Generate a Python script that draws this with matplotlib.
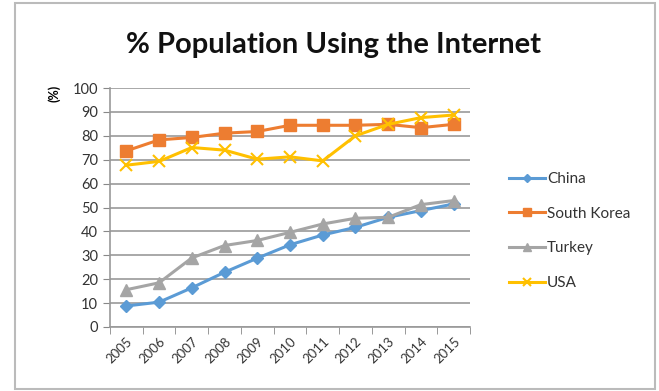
import matplotlib
matplotlib.use('Agg')
import matplotlib.pyplot as plt
from matplotlib.patches import Rectangle
import numpy as np

# data
years = ['2005', '2006', '2007', '2008', '2009', '2010',
         '2011', '2012', '2013', '2014', '2015']
china = [8.8, 10.4, 16.4, 22.9, 28.8, 34.4, 38.5, 41.7, 45.9, 48.7, 51.5]
south_korea = [73.7, 78.3, 79.3, 81.1, 81.8, 84.4, 84.4, 84.4, 84.8, 83.4, 84.8]
turkey = [15.6, 18.5, 28.9, 34.1, 36.2, 39.6, 43.1, 45.5, 45.9, 51.2, 52.9]
usa = [67.7, 69.3, 75.1, 74.0, 70.2, 71.2, 69.5, 80.0, 84.8, 87.6, 88.7]

plt.rcParams['font.family'] = ['Lato', 'DejaVu Sans']

fig = plt.figure(figsize=(6.59, 3.91), dpi=100)
ax = fig.add_axes([110/659, 64/391, 360/659, 239/391])

x = np.arange(len(years))
ax.plot(x, china, color='#5B9BD5', marker='D', markersize=6, lw=2.2, label='China')
ax.plot(x, south_korea, color='#ED7D31', marker='s', markersize=8, lw=2.2, label='South Korea')
ax.plot(x, turkey, color='#A5A5A5', marker='^', markersize=8, lw=2.2, label='Turkey')
ax.plot(x, usa, color='#FFC000', marker='x', markersize=8, mew=1.5, lw=2.2, label='USA')

ax.set_xlim(-0.5, len(years) - 0.5)
ax.set_ylim(0, 100)
ax.set_yticks(range(0, 101, 10))
ax.set_xticks(x)
ax.set_xticklabels(years, rotation=45, ha='right', rotation_mode='anchor', fontsize=9.5,
                   color='#333333')
ax.tick_params(axis='x', length=0, pad=6)
ax.set_xticks(np.arange(-0.5, len(years), 1), minor=True)
ax.tick_params(axis='x', which='minor', length=5, color='#888888', direction='out')
ax.tick_params(axis='y', length=5, color='#888888', labelsize=10.5, labelcolor='#333333')

ax.grid(axis='y', color='#999999', lw=1.2)
ax.set_axisbelow(True)
for side in ['top', 'right']:
    ax.spines[side].set_visible(False)
for side in ['left', 'bottom']:
    ax.spines[side].set_color('#999999')
    ax.spines[side].set_linewidth(1.2)

fig.text(334/659, 1 - 45/391, '% Population Using the Internet', ha='center', va='center',
         fontsize=21, fontweight='bold', color='#111111')
fig.text(54/659, 1 - 93/391, '(%)', rotation=90, ha='center', va='center',
         fontsize=9, fontweight='bold')

fig.legend(loc='center left', bbox_to_anchor=(495/659, 1 - 231/391), frameon=False,
           fontsize=11, labelspacing=1.35, handlelength=2.4, handletextpad=0.1,
           markerscale=0.7, labelcolor='#333333')

# chart frame
fig.patches.append(Rectangle((15/659, 2/391), 640/659, 386/391, transform=fig.transFigure,
                             fill=False, edgecolor='#BBBBBB', lw=1.5))

fig.savefig('out.png', dpi=100)
